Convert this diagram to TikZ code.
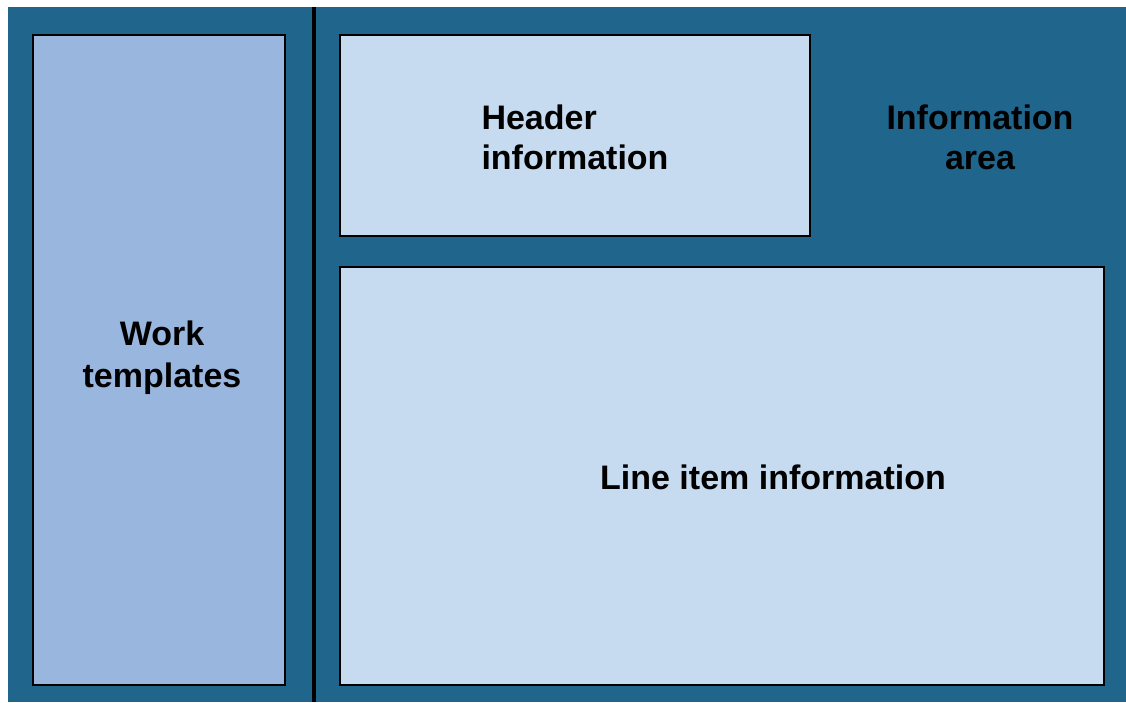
\documentclass[tikz,border=0pt]{standalone}
\usepackage{fontspec}
\setmainfont{Liberation Sans}
\definecolor{areablue}{RGB}{31,101,140}
\definecolor{paneblue}{RGB}{153,182,222}
\definecolor{lightpane}{RGB}{198,219,240}
\begin{document}
\begin{tikzpicture}[x=1pt, y=-1pt,
    pane/.style={draw=black, line width=1.5pt},
    label/.style={font=\bfseries\fontsize{34}{40}\selectfont, align=center}]
    \useasboundingbox (0,0) rectangle (1126,702);
    % Background
    \fill[areablue] (8,7) rectangle (1126,702);

    % Divider
    \draw[line width=4pt] (313.5,7) -- (313.5,702);

    % Work templates
    \draw[pane, fill=paneblue] (33,35) rectangle (285,685);
    \node[label, font=\bfseries\fontsize{34}{42}\selectfont] (templates) at (162,358) {Work\\templates};

    % Header
    \draw[pane, fill=lightpane] (340,35) rectangle (810,236);
    \node[label, align=left] (header) at (575,137) {Header\\information};

    % Information area
    \node[label] (infoarea) at (980,137) {Information\\area};

    % Line items
    \draw[pane, fill=lightpane] (340,267) rectangle (1104,685);
    \node[label] (lineitems) at (773,477) {Line item information};
\end{tikzpicture}
\end{document}
